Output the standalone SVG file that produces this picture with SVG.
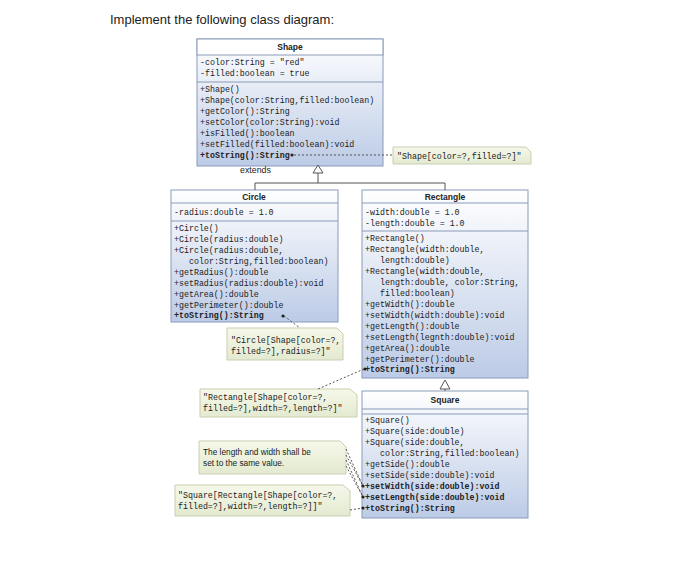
<svg xmlns="http://www.w3.org/2000/svg" width="700" height="565" viewBox="0 0 700 565">
<defs>
<linearGradient id="bg" x1="0" y1="0" x2="0" y2="1"><stop offset="0" stop-color="#ffffff"/><stop offset="1" stop-color="#bccbe6"/></linearGradient>
<linearGradient id="ng" x1="0" y1="0" x2="0" y2="1"><stop offset="0" stop-color="#f6f8ea"/><stop offset="1" stop-color="#e3ead0"/></linearGradient>
<style>
.box{fill:url(#bg);stroke:#8a9bb8;stroke-width:1}
.hd{fill:#fff;stroke:#8a9bb8;stroke-width:1}
.ln{stroke:#8a9bb8;stroke-width:1}
.t{font-family:"Liberation Mono",monospace;font-size:8.3px;fill:#222}
.b{font-weight:bold}
.ti{font-family:"Liberation Sans",sans-serif;font-size:8.5px;font-weight:bold;text-anchor:middle;fill:#222}
.note{fill:url(#ng);stroke:#c8cfb0;stroke-width:1}
.ns{font-family:"Liberation Sans",sans-serif;font-size:8.3px;fill:#222}
.dash{stroke:#555;stroke-width:1;stroke-dasharray:2,2;fill:none}
.solid{stroke:#555;stroke-width:1;fill:none}
.dot{fill:#222}
</style>
</defs>
<rect width="700" height="565" fill="#fff"/>
<text x="110" y="24" font-family="Liberation Sans,sans-serif" font-size="13" fill="#222">Implement the following class diagram:</text>

<g id="shape">
<rect class="box" x="197" y="39" width="186" height="127"/>
<rect class="hd" x="197" y="39" width="186" height="16"/>
<line class="ln" x1="197" y1="82" x2="383" y2="82"/>
<text class="ti" x="290" y="50">Shape</text>
<text class="t" x="200" y="65">-color:String = "red"</text>
<text class="t" x="200" y="76">-filled:boolean = true</text>
<text class="t" x="200" y="92">+Shape()</text>
<text class="t" x="200" y="103">+Shape(color:String,filled:boolean)</text>
<text class="t" x="200" y="114">+getColor():String</text>
<text class="t" x="200" y="125">+setColor(color:String):void</text>
<text class="t" x="200" y="136">+isFilled():boolean</text>
<text class="t" x="200" y="147">+setFilled(filled:boolean):void</text>
<text class="t b" x="200" y="158">+toString():String</text>
</g>

<g id="circle">
<rect class="box" x="171" y="190" width="167" height="132"/>
<line class="ln" x1="171" y1="203" x2="338" y2="203"/>
<line class="ln" x1="171" y1="221" x2="338" y2="221"/>
<text class="ti" x="254" y="200">Circle</text>
<text class="t" x="174" y="215">-radius:double = 1.0</text>
<text class="t" x="174" y="231">+Circle()</text>
<text class="t" x="174" y="242">+Circle(radius:double)</text>
<text class="t" x="174" y="253">+Circle(radius:double,</text>
<text class="t" x="189" y="264">color:String,filled:boolean)</text>
<text class="t" x="174" y="275">+getRadius():double</text>
<text class="t" x="174" y="286">+setRadius(radius:double):void</text>
<text class="t" x="174" y="297">+getArea():double</text>
<text class="t" x="174" y="308">+getPerimeter():double</text>
<text class="t b" x="174" y="318">+toString():String</text>
</g>

<g id="rectangle">
<rect class="box" x="362" y="190" width="166" height="188"/>
<line class="ln" x1="362" y1="203" x2="528" y2="203"/>
<line class="ln" x1="362" y1="231" x2="528" y2="231"/>
<text class="ti" x="445" y="200">Rectangle</text>
<text class="t" x="365" y="215">-width:double = 1.0</text>
<text class="t" x="365" y="226">-length:double = 1.0</text>
<text class="t" x="365" y="241">+Rectangle()</text>
<text class="t" x="365" y="252">+Rectangle(width:double,</text>
<text class="t" x="380" y="263">length:double)</text>
<text class="t" x="365" y="274">+Rectangle(width:double,</text>
<text class="t" x="380" y="285">length:double, color:String,</text>
<text class="t" x="380" y="296">filled:boolean)</text>
<text class="t" x="365" y="307">+getWidth():double</text>
<text class="t" x="365" y="318">+setWidth(width:double):void</text>
<text class="t" x="365" y="329">+getLength():double</text>
<text class="t" x="365" y="340">+setLength(legnth:double):void</text>
<text class="t" x="365" y="351">+getArea():double</text>
<text class="t" x="365" y="362">+getPerimeter():double</text>
<text class="t b" x="365" y="372">+toString():String</text>
</g>

<g id="square">
<rect class="box" x="362" y="391" width="166" height="127"/>
<line class="ln" x1="362" y1="409" x2="528" y2="409"/>
<line class="ln" x1="362" y1="414" x2="528" y2="414"/>
<text class="ti" x="445" y="403">Square</text>
<text class="t" x="365" y="423">+Square()</text>
<text class="t" x="365" y="434">+Square(side:double)</text>
<text class="t" x="365" y="445">+Square(side:double,</text>
<text class="t" x="380" y="456">color:String,filled:boolean)</text>
<text class="t" x="365" y="467">+getSide():double</text>
<text class="t" x="365" y="478">+setSide(side:double):void</text>
<text class="t b" x="365" y="489">+setWidth(side:double):void</text>
<text class="t b" x="365" y="500">+setLength(side:double):void</text>
<text class="t b" x="365" y="511">+toString():String</text>
</g>

<g id="note-shape">
<path class="note" d="M393 147 H526 L531 152 V164 H393 Z"/>
<text class="t" x="397" y="159">"Shape[color=?,filled=?]"</text>
</g>
<g id="note-circle">
<path class="note" d="M227 328 H337 L343 334 V360 H227 Z"/>
<text class="t" x="231" y="343">"Circle[Shape[color=?,</text>
<text class="t" x="231" y="354">filled=?],radius=?]"</text>
</g>
<g id="note-rectangle">
<path class="note" d="M200 389 H350 L357 395 V417 H200 Z"/>
<text class="t" x="203" y="400">"Rectangle[Shape[color=?,</text>
<text class="t" x="203" y="411">filled=?],width=?,length=?]"</text>
</g>
<g id="note-length">
<path class="note" d="M199 441 H340 L346 447 V474 H199 Z"/>
<text class="ns" x="203" y="455">The length and width shall be</text>
<text class="ns" x="203" y="466">set to the same value.</text>
</g>
<g id="note-square">
<path class="note" d="M175 485 H343 L350 491 V516 H175 Z"/>
<text class="t" x="178" y="498">"Square[Rectangle[Shape[color=?,</text>
<text class="t" x="178" y="509">filled=?],width=?,length=?]]"</text>
</g>

<g id="connectors">
<text class="ns" x="240" y="173" style="font-size:8.8px">extends</text>
<path class="solid" d="M318 173 V183 M255 190 V183 H445 V190"/>
<path d="M313 173 L318 165 L323 173 Z" fill="#fff" stroke="#555"/>
<path class="solid" d="M445 391 V389"/>
<path d="M440 389 L445 380 L450 389 Z" fill="#fff" stroke="#555"/>
<line class="dash" x1="294" y1="155" x2="393" y2="155"/>
<circle class="dot" cx="292" cy="155" r="1.6"/>
<line class="dash" x1="284" y1="316" x2="300" y2="328"/>
<circle class="dot" cx="283" cy="316" r="1.6"/>
<line class="dash" x1="364" y1="369" x2="318" y2="389"/>
<circle class="dot" cx="365" cy="369" r="1.6"/>
<line class="dash" x1="346" y1="449" x2="363" y2="486"/>
<line class="dash" x1="346" y1="455" x2="363" y2="486"/>
<line class="dash" x1="346" y1="460" x2="363" y2="497"/>
<line class="dash" x1="346" y1="466" x2="363" y2="497"/>
<circle class="dot" cx="363" cy="486" r="1.6"/>
<circle class="dot" cx="363" cy="497" r="1.6"/>
<line class="dash" x1="350" y1="510" x2="363" y2="508"/>
<circle class="dot" cx="363" cy="508" r="1.6"/>
</g>
</svg>
